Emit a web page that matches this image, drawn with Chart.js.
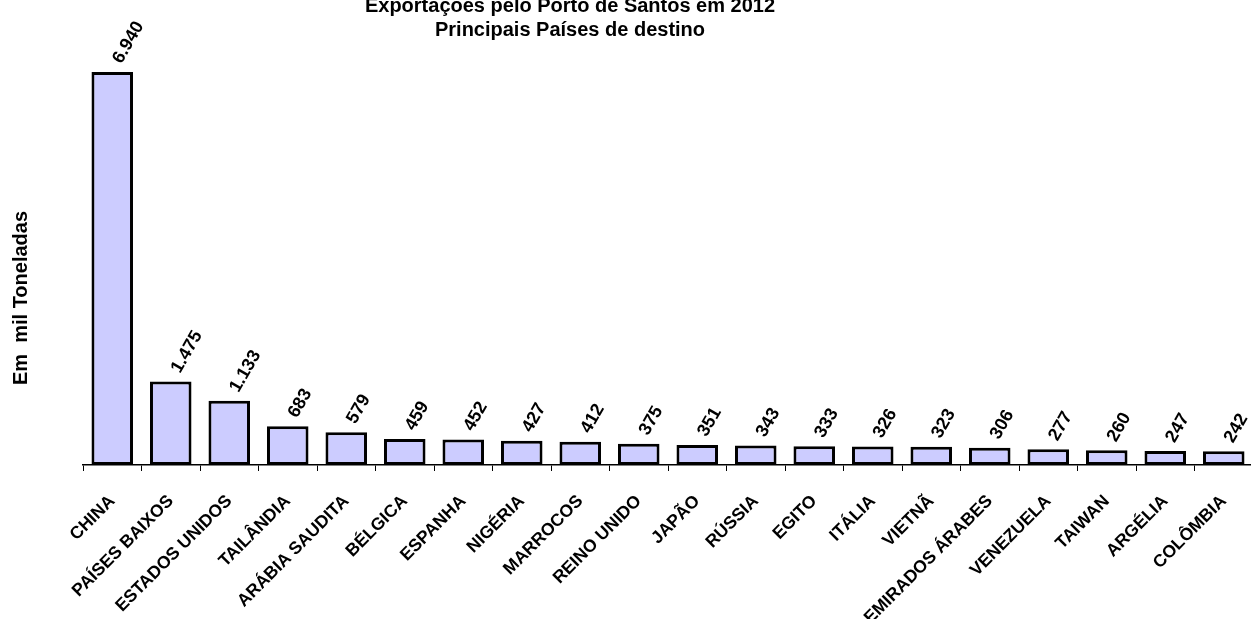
<!DOCTYPE html>
<html>
<head>
<meta charset="utf-8">
<script src="https://cdn.jsdelivr.net/npm/chart.js"></script>
<style>
html, body { margin: 0; padding: 0; background: #fff; overflow: hidden; }
#wrap { width: 1251px; height: 619px; overflow: hidden; }
</style>
</head>
<body>
<div id="wrap"><canvas id="grafico" width="1253" height="619"></canvas></div>
<script>
const paises = ['CHINA', 'PAÍSES BAIXOS', 'ESTADOS UNIDOS', 'TAILÂNDIA', 'ARÁBIA SAUDITA', 'BÉLGICA', 'ESPANHA',
    'NIGÉRIA', 'MARROCOS', 'REINO UNIDO', 'JAPÃO', 'RÚSSIA', 'EGITO', 'ITÁLIA', 'VIETNÃ', 'EMIRADOS ÁRABES',
    'VENEZUELA', 'TAIWAN', 'ARGÉLIA', 'COLÔMBIA']
const toneladas = [6940, 1475, 1133, 683, 579, 459, 452, 427, 412, 375, 351, 343, 333, 326, 323, 306, 277, 260, 247, 242]
const titulo = ['Exportações pelo Porto de Santos em 2012', 'Principais Países de destino']
const tituloY = 'Em  mil Toneladas'

const fonte = '"Liberation Sans", Arial, sans-serif'

const formata = (v) => v.toString().replace(/\B(?=(\d{3})+(?!\d))/g, '.')

// titulo e eixo Y desenhados a mao para ficar na mesma posicao do original
const textos = {
    id: 'textos',
    afterDraw(chart) {
        const ctx = chart.ctx
        ctx.save()
        ctx.fillStyle = '#000'
        ctx.textAlign = 'center'
        ctx.textBaseline = 'alphabetic'
        ctx.font = 'bold 20px ' + fonte
        ctx.fillText(titulo[0], 570, 12)
        ctx.fillText(titulo[1], 570, 36)

        ctx.translate(27, 298)
        ctx.rotate(-Math.PI / 2)
        ctx.font = 'bold 20px ' + fonte
        ctx.fillText(tituloY, 0, 0)
        ctx.restore()
    }
}

const rotulos = {
    id: 'rotulos',
    afterDatasetsDraw(chart) {
        const ctx = chart.ctx
        const meta = chart.getDatasetMeta(0)
        ctx.save()
        ctx.fillStyle = '#000'
        ctx.font = 'bold 18px ' + fonte
        ctx.textAlign = 'left'
        ctx.textBaseline = 'middle'
        meta.data.forEach((bar, i) => {
            ctx.save()
            ctx.translate(bar.x + 5, bar.y - 10)
            ctx.rotate(-60 * Math.PI / 180)
            ctx.fillText(formata(toneladas[i]), 0, 0)
            ctx.restore()
        })
        ctx.restore()
    }
}

const ctx = document.getElementById('grafico').getContext('2d')
new Chart(ctx, {
    type: 'bar',
    data: {
        labels: paises,
        datasets: [{
            data: toneladas,
            backgroundColor: '#CCCCFF',
            borderColor: '#000',
            borderWidth: 3,
            borderSkipped: false,
            barPercentage: 0.71,
            categoryPercentage: 1.0
        }]
    },
    options: {
        responsive: false,
        animation: false,
        devicePixelRatio: 1,
        layout: { padding: { left: 83, top: 12, right: 0, bottom: 0 } },
        plugins: {
            legend: { display: false },
            tooltip: { enabled: false },
            title: { display: false }
        },
        scales: {
            x: {
                offset: true,
                grid: { display: true, drawOnChartArea: false, drawTicks: true, tickLength: 6, color: '#000', lineWidth: 1, offset: true },
                border: { display: true, color: '#000', width: 1.5 },
                ticks: {
                    color: '#000',
                    font: { family: fonte, size: 17.5, weight: 'bold' },
                    minRotation: 45,
                    maxRotation: 45,
                    autoSkip: false,
                    padding: 20
                },
                afterFit(scale) {
                    scale.height = 154
                    scale.paddingLeft = 0
                    scale.paddingRight = 0
                }
            },
            y: { display: false, min: 0, max: 8000 }
        }
    },
    plugins: [rotulos, textos]
})
</script>
</body>
</html>
